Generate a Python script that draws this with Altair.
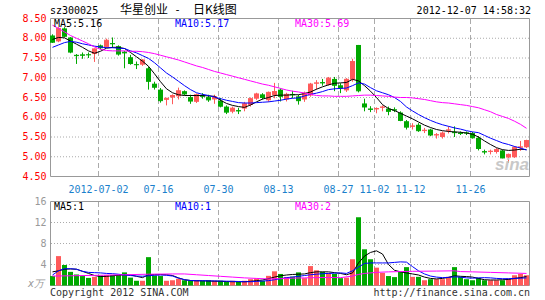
import altair as alt
import pandas as pd

# ---------------- data ----------------
opens = [8.07, 7.92, 8.25, 8.02, 7.58, 7.59, 7.59, 7.60, 7.82, 7.78,
         7.88, 7.80, 7.66, 7.52, 7.34, 7.33, 7.24, 6.85, 6.70, 6.44,
         6.50, 6.53, 6.66, 6.51, 6.39, 6.55, 6.51, 6.45, 6.42, 6.27,
         6.14, 6.18, 6.22, 6.31, 6.47, 6.58, 6.43, 6.56, 6.70, 6.45,
         6.59, 6.53, 6.45, 6.55, 6.85, 6.89, 6.82, 6.97, 6.81, 6.68,
         6.95, 7.83, 6.35, 6.22, 6.20, 6.24, 6.22, 6.20, 6.12, 5.90,
         5.76, 5.81, 5.65, 5.69, 5.54, 5.50, 5.66, 5.63, 5.61, 5.61,
         5.60, 5.48, 5.14, 5.12, 5.12, 5.16, 4.98, 4.99, 5.23, 5.24]
closes = [7.90, 8.25, 8.05, 7.65, 7.56, 7.57, 7.58, 7.73, 7.76, 7.95,
          7.86, 7.60, 7.63, 7.36, 7.33, 7.45, 6.91, 6.76, 6.42, 6.48,
          6.55, 6.67, 6.59, 6.41, 6.57, 6.53, 6.44, 6.52, 6.28, 6.13,
          6.23, 6.16, 6.34, 6.47, 6.59, 6.50, 6.63, 6.65, 6.53, 6.58,
          6.57, 6.42, 6.61, 6.84, 6.87, 6.87, 6.99, 6.81, 6.74, 6.96,
          7.41, 6.67, 6.26, 6.20, 6.22, 6.26, 6.15, 6.18, 5.92, 5.75,
          5.78, 5.66, 5.67, 5.55, 5.56, 5.60, 5.68, 5.61, 5.59, 5.60,
          5.48, 5.21, 5.12, 5.14, 5.18, 4.97, 5.06, 5.24, 5.25, 5.41]
highs = [8.10, 8.28, 8.28, 8.03, 7.60, 7.64, 7.64, 7.74, 7.84, 7.99,
         8.02, 7.82, 7.68, 7.58, 7.41, 7.47, 7.28, 6.90, 6.74, 6.49,
         6.58, 6.75, 6.68, 6.57, 6.60, 6.61, 6.57, 6.57, 6.49, 6.30,
         6.27, 6.24, 6.39, 6.50, 6.62, 6.61, 6.65, 6.87, 6.73, 6.62,
         6.67, 6.57, 6.65, 6.87, 6.94, 6.97, 7.02, 7.02, 6.86, 6.99,
         7.48, 7.83, 6.47, 6.28, 6.25, 6.30, 6.27, 6.25, 6.15, 5.93,
         5.85, 5.85, 5.73, 5.71, 5.60, 5.64, 5.77, 5.77, 5.64, 5.64,
         5.63, 5.52, 5.18, 5.18, 5.22, 5.18, 5.08, 5.27, 5.40, 5.43]
lows = [7.88, 7.90, 8.02, 7.62, 7.35, 7.48, 7.50, 7.40, 7.72, 7.76,
        7.76, 7.56, 7.24, 7.33, 7.22, 7.30, 6.70, 6.70, 6.37, 6.30,
        6.33, 6.45, 6.55, 6.34, 6.36, 6.47, 6.39, 6.34, 6.25, 6.08,
        6.10, 6.08, 6.15, 6.27, 6.44, 6.45, 6.39, 6.48, 6.40, 6.40,
        6.48, 6.32, 6.39, 6.52, 6.70, 6.80, 6.80, 6.66, 6.61, 6.64,
        6.90, 6.63, 6.15, 6.13, 6.10, 6.15, 6.05, 6.13, 5.90, 5.69,
        5.69, 5.63, 5.60, 5.52, 5.46, 5.46, 5.59, 5.50, 5.55, 5.55,
        5.46, 5.16, 5.06, 5.06, 5.08, 4.96, 4.85, 4.97, 5.15, 5.22]
vols = [1.8, 5.6, 3.9, 2.6, 2.1, 1.8, 1.45, 1.65, 1.9, 2.0,
        2.0, 2.0, 2.5, 1.5, 0.9, 0.9, 5.4, 1.9, 1.8, 0.9,
        1.0, 1.3, 1.0, 0.9, 1.0, 0.9, 1.0, 0.9, 0.9, 0.7,
        0.9, 0.7, 0.9, 1.2, 1.33, 0.9, 1.84, 2.7, 2.2, 1.6,
        1.7, 2.5, 1.4, 3.7, 2.9, 2.6, 2.4, 2.2, 1.4, 1.5,
        5.0, 13.0, 6.9, 5.0, 3.4, 2.4, 1.8, 1.6, 2.6, 3.5,
        1.65, 1.65, 1.0, 1.2, 1.2, 1.2, 1.65, 3.5, 1.65, 1.2,
        1.0, 1.45, 1.0, 1.0, 1.0, 1.0, 1.33, 1.96, 2.2, 1.96]

ma5 = [7.97, 8.02, 8.01, 7.93, 7.85, 7.77, 7.68, 7.62, 7.67, 7.75,
       7.77, 7.77, 7.74, 7.64, 7.53, 7.42, 7.29, 7.10, 6.90, 6.72,
       6.62, 6.57, 6.55, 6.55, 6.55, 6.55, 6.54, 6.53, 6.43, 6.35,
       6.30, 6.27, 6.25, 6.31, 6.39, 6.46, 6.50, 6.55, 6.56, 6.56,
       6.57, 6.57, 6.60, 6.64, 6.71, 6.77, 6.82, 6.86, 6.87, 6.88,
       6.96, 6.92, 6.80, 6.66, 6.50, 6.32, 6.22, 6.17, 6.10, 6.03,
       5.96, 5.88, 5.80, 5.74, 5.69, 5.66, 5.64, 5.63, 5.62, 5.60,
       5.57, 5.50, 5.40, 5.31, 5.23, 5.18, 5.16, 5.17, 5.19, 5.18]
ma10 = [7.77, 7.83, 7.89, 7.92, 7.90, 7.86, 7.83, 7.80, 7.78, 7.76,
        7.76, 7.75, 7.74, 7.68, 7.63, 7.56, 7.49, 7.38, 7.25, 7.12,
        7.02, 6.91, 6.80, 6.70, 6.62, 6.58, 6.55, 6.51, 6.47, 6.43,
        6.40, 6.37, 6.36, 6.36, 6.37, 6.38, 6.39, 6.41, 6.43, 6.46,
        6.48, 6.49, 6.54, 6.58, 6.61, 6.65, 6.70, 6.72, 6.73, 6.74,
        6.80, 6.87, 6.84, 6.75, 6.67, 6.62, 6.57, 6.50, 6.40, 6.26,
        6.16, 6.07, 5.99, 5.92, 5.86, 5.81, 5.77, 5.73, 5.70, 5.66,
        5.63, 5.61, 5.54, 5.47, 5.41, 5.35, 5.31, 5.26, 5.22, 5.17]
ma30 = [8.33, 8.25, 8.16, 8.07, 8.00, 7.93, 7.86, 7.78, 7.72, 7.69,
        7.68, 7.68, 7.68, 7.67, 7.67, 7.66, 7.64, 7.61, 7.57, 7.53,
        7.49, 7.45, 7.40, 7.35, 7.30, 7.26, 7.21, 7.16, 7.12, 7.08,
        7.04, 7.00, 6.96, 6.92, 6.88, 6.84, 6.81, 6.77, 6.73, 6.69,
        6.66, 6.64, 6.61, 6.58, 6.55, 6.54, 6.54, 6.53, 6.53, 6.53,
        6.54, 6.55, 6.56, 6.56, 6.55, 6.54, 6.53, 6.51, 6.50, 6.50,
        6.49, 6.47, 6.45, 6.42, 6.39, 6.37, 6.36, 6.34, 6.32, 6.30,
        6.27, 6.24, 6.19, 6.14, 6.07, 6.02, 5.97, 5.90, 5.82, 5.72]

vma5 = [2.6, 2.8, 3.1, 3.15, 3.1, 2.7, 2.3, 1.9, 1.7, 1.75,
        1.85, 1.95, 2.05, 2.0, 1.75, 1.5, 2.05, 2.1, 2.1, 2.05,
        1.9, 1.45, 1.1, 0.95, 0.9, 0.9, 0.85, 0.82, 0.8, 0.75,
        0.72, 0.72, 0.72, 0.8, 0.92, 1.05, 1.3, 1.6, 1.85, 2.0,
        2.1, 2.15, 2.2, 2.45, 2.6, 2.6, 2.6, 2.45, 2.3, 2.05,
        2.4, 4.3, 5.6, 6.3, 6.6, 6.0, 4.0, 2.9, 2.6, 2.4,
        2.2, 2.0, 1.6, 1.35, 1.25, 1.35, 1.55, 1.85, 1.75, 1.7,
        1.6, 1.35, 1.1, 1.05, 1.05, 1.1, 1.15, 1.35, 1.5, 1.7]
vma10 = [2.0, 2.8, 3.2, 3.2, 3.1, 2.7, 2.5, 2.45, 2.4, 2.3,
         2.25, 2.15, 2.0, 1.9, 1.8, 1.77, 1.85, 1.95, 2.0, 1.95,
         1.8, 1.4, 1.1, 0.95, 0.9, 0.9, 0.88, 0.87, 0.85, 0.82,
         0.8, 0.76, 0.72, 0.72, 0.78, 0.85, 0.92, 1.1, 1.3, 1.5,
         1.6, 1.75, 1.9, 2.05, 2.15, 2.25, 2.3, 2.35, 2.4, 2.3,
         2.8, 3.5, 4.2, 4.3, 4.3, 4.3, 4.3, 4.4, 4.5, 4.45,
         3.6, 2.8, 2.2, 1.8, 1.6, 1.5, 1.55, 1.65, 1.6, 1.45,
         1.4, 1.45, 1.5, 1.45, 1.35, 1.3, 1.3, 1.35, 1.4, 1.45]
vma30_idx = [0, 3, 8, 12, 16, 20, 22, 24, 26, 28, 30, 32, 34, 36, 38, 40,
             42, 44, 46, 48, 50, 51, 52, 54, 56, 60, 64, 67, 68, 70, 73, 76, 79]
vma30 = [1.8, 1.85, 1.95, 2.05, 2.15, 2.2, 2.2, 2.05, 1.9, 1.75, 1.6, 1.45,
         1.35, 1.25, 1.3, 1.4, 1.45, 1.5, 1.52, 1.5, 1.8, 2.1, 2.3, 2.5, 2.6,
         2.7, 2.75, 2.8, 2.65, 2.6, 2.5, 2.4, 2.3]

price_ticks = [4.5, 5.0, 5.5, 6.0, 6.5, 7.0, 7.5, 8.0, 8.5]
price_labels = ["4.50", "5.00", "5.50", "6.00", "6.50", "7.00", "7.50", "8.00", "8.50"]
vol_ticks = [4, 8, 12, 16]
vol_labels = ["4", "8", "12", "16"]
date_idx = [8, 18, 28, 38, 48, 54, 60, 70]
date_labels = ["2012-07-02", "07-16", "07-30", "08-13", "08-27", "11-02", "11-12", "11-26"]

# ---------------- styling ----------------
RED = "#FF5A5A"
GREEN = "#00A800"
MONO = "DejaVu Sans Mono"
CJK = "Noto Sans CJK SC"
GRID = "#aaaaaa"
FRAME = "#999999"

idx = list(range(len(opens)))
df = pd.DataFrame({"i": idx, "open": opens, "high": highs, "low": lows,
                   "close": closes, "vol": vols})

xs = alt.Scale(domain=[-0.41667, 79.58333], range=[50, 530], nice=False, zero=False)
ps = alt.Scale(domain=[4.5, 8.5], range=[176.5, 18.5], nice=False, zero=False)
vs = alt.Scale(domain=[0, 16], range=[285.5, 201.5], nice=False, zero=False)

color = alt.condition("datum.close >= datum.open", alt.value(RED), alt.value(GREEN))

base = alt.Chart(df).transform_calculate(xl="datum.i - 0.4167", xr="datum.i + 0.4167")

wicks = base.mark_rule(strokeWidth=1).encode(
    x=alt.X("i:Q", scale=xs, axis=None),
    y=alt.Y("low:Q", scale=ps, axis=None), y2="high:Q", color=color)
bodies = base.mark_rect().encode(
    x=alt.X("xl:Q", scale=xs, axis=None), x2="xr:Q",
    y=alt.Y("open:Q", scale=ps, axis=None), y2="close:Q", color=color)
crosses = base.mark_rule(strokeWidth=1).encode(
    x=alt.X("xl:Q", scale=xs, axis=None), x2="xr:Q",
    y=alt.Y("close:Q", scale=ps, axis=None), color=color)
volbars = base.mark_rect().encode(
    x=alt.X("xl:Q", scale=xs, axis=None), x2="xr:Q",
    y=alt.Y("vol:Q", scale=vs, axis=None), y2=alt.datum(0), color=color)


def ma_line(values, col, scale, index=None):
    d = pd.DataFrame({"i": index if index is not None else idx, "v": values})
    return alt.Chart(d).mark_line(color=col, strokeWidth=1).encode(
        x=alt.X("i:Q", scale=xs, axis=None),
        y=alt.Y("v:Q", scale=scale, axis=None))


def txt(s, x, y, color="#000000", size=10, align="left", font=MONO, **kw):
    return alt.Chart(alt.Data(values=[{"t": s}])).mark_text(
        align=align, baseline="middle", font=font, fontSize=size, color=color, **kw
    ).encode(x=alt.value(x), y=alt.value(y), text="t:N")


# grids
hgrid_p = alt.Chart(pd.DataFrame({"p": price_ticks[1:-1]})).mark_rule(
    color=GRID, strokeDash=[1, 2]).encode(
    x=alt.value(51), x2=alt.value(529), y=alt.Y("p:Q", scale=ps, axis=None))
hgrid_v = alt.Chart(pd.DataFrame({"v": vol_ticks[:-1]})).mark_rule(
    color=GRID, strokeDash=[1, 2]).encode(
    x=alt.value(51), x2=alt.value(529), y=alt.Y("v:Q", scale=vs, axis=None))
dd = pd.DataFrame({"i": date_idx, "lab": date_labels})
vgrid_p = alt.Chart(dd).mark_rule(color=GRID, strokeDash=[5, 3], xOffset=-2).encode(
    x=alt.X("i:Q", scale=xs, axis=None), y=alt.value(19), y2=alt.value(176))
vgrid_v = alt.Chart(dd).mark_rule(color=GRID, strokeDash=[5, 3], xOffset=-2).encode(
    x=alt.X("i:Q", scale=xs, axis=None), y=alt.value(202), y2=alt.value(285))

frame_p = alt.Chart(alt.Data(values=[{}])).mark_rect(
    filled=False, stroke=FRAME, strokeWidth=1).encode(
    x=alt.value(50.5), x2=alt.value(529.5), y=alt.value(18.5), y2=alt.value(176.5))
frame_v = alt.Chart(alt.Data(values=[{}])).mark_rect(
    filled=False, stroke=FRAME, strokeWidth=1).encode(
    x=alt.value(50.5), x2=alt.value(529.5), y=alt.value(201.5), y2=alt.value(285.5))

# axis labels
plabels = alt.Chart(pd.DataFrame({"p": price_ticks, "lab": price_labels})).mark_text(
    align="right", baseline="middle", font=MONO, fontSize=10, color="#FF0000").encode(
    x=alt.value(46.5), y=alt.Y("p:Q", scale=ps, axis=None), text="lab:N")
vlabels = alt.Chart(pd.DataFrame({"v": vol_ticks, "lab": vol_labels})).mark_text(
    align="right", baseline="middle", font=MONO, fontSize=10, color="#999999").encode(
    x=alt.value(46.5), y=alt.Y("v:Q", scale=vs, axis=None), text="lab:N")
dlabels = alt.Chart(dd).mark_text(
    align="center", baseline="middle", font=MONO, fontSize=10, color="#1A7FCC", xOffset=-2).encode(
    x=alt.X("i:Q", scale=xs, axis=None), y=alt.value(190), text="lab:N")

texts = [
    txt("sz300025", 50, 11),
    txt("华星创业", 120, 10, size=12, font=CJK),
    txt("-", 177.5, 10, size=11, align="center"),
    txt("日K线图", 193, 10, size=12, font=CJK),
    txt("2012-12-07 14:58:32", 531, 11, align="right"),
    txt("MA5:5.16", 54, 23.5),
    txt("MA10:5.17", 175, 23.5, color="#0000FF"),
    txt("MA30:5.69", 295, 23.5, color="#FF00FF"),
    txt("MA5:1", 54, 206.5),
    txt("MA10:1", 175, 206.5, color="#0000FF"),
    txt("MA30:2", 295, 206.5, color="#FF00FF"),
    txt("x万", 44, 283.5, color="#999999", align="right", fontStyle="italic"),
    txt("Copyright 2012 SINA.COM", 50, 292.5, color="#333333"),
    txt("http://finance.sina.com.cn", 530, 292.5, color="#333333", align="right"),
    txt("sina", 512, 165, color="#c8c8c8", size=17, align="center",
        font="Liberation Sans", fontStyle="italic", fontWeight="bold"),
]

layers = [hgrid_p, hgrid_v, vgrid_p, vgrid_v, frame_p, frame_v,
          volbars,
          ma_line(vma5, "#000000", vs), ma_line(vma10, "#0000FF", vs),
          ma_line(vma30, "#FF00FF", vs, vma30_idx),
          wicks, bodies, crosses,
          ma_line(ma5, "#000000", ps), ma_line(ma10, "#0000FF", ps),
          ma_line(ma30, "#FF00FF", ps),
          plabels, vlabels, dlabels] + texts

chart = alt.layer(*layers).resolve_scale(y="independent").properties(
    width=545, height=300, padding=0,
    autosize=alt.AutoSizeParams(type="none"),
    background="#ffffff",
).configure_view(stroke=None)

chart.save("out.html", embed_options={"renderer": "svg", "actions": False})
